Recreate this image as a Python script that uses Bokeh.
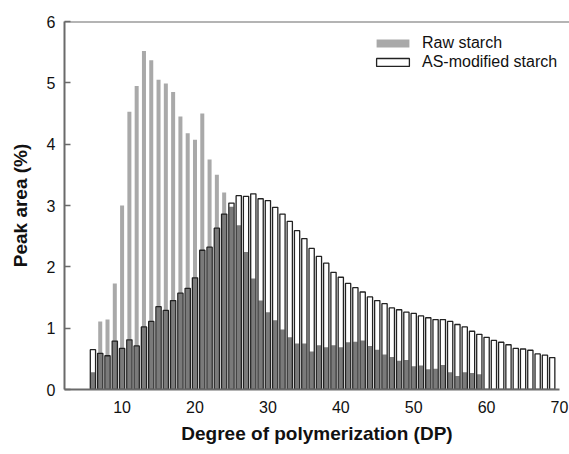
from bokeh.plotting import figure
from bokeh.models import Range1d, Span, Legend, LegendItem, ColumnDataSource, FixedTicker
from bokeh.embed import file_html
from bokeh.resources import INLINE

dp = list(range(6, 70))
as_modified = [0.65, 0.59, 0.55, 0.79, 0.67, 0.81, 0.71, 1.02, 1.11, 1.35,
               1.29, 1.45, 1.57, 1.65, 1.82, 2.27, 2.32, 2.63, 2.86, 3.04,
               3.16, 3.15, 3.19, 3.11, 3.08, 2.97, 2.86, 2.74, 2.59, 2.46,
               2.30, 2.17, 2.06, 1.91, 1.83, 1.73, 1.66, 1.59, 1.51, 1.45,
               1.40, 1.33, 1.30, 1.26, 1.24, 1.20, 1.17, 1.14, 1.14, 1.11,
               1.06, 1.02, 0.95, 0.90, 0.85, 0.80, 0.77, 0.73, 0.67, 0.66,
               0.64, 0.58, 0.56, 0.52]
raw = [0.28, 1.11, 1.14, 1.73, 3.00, 4.53, 4.95, 5.52, 5.37, 5.05,
       4.99, 4.85, 4.45, 4.18, 4.07, 4.50, 3.75, 3.50, 3.21, 2.98,
       2.68, 2.24, 1.81, 1.45, 1.26, 1.13, 0.98, 0.85, 0.75, 0.75,
       0.62, 0.72, 0.69, 0.72, 0.69, 0.77, 0.78, 0.80, 0.71, 0.65,
       0.57, 0.53, 0.47, 0.48, 0.38, 0.39, 0.33, 0.34, 0.40, 0.28,
       0.22, 0.28, 0.27, 0.25, 0.0, 0.0, 0.0, 0.0, 0.0, 0.0,
       0.0, 0.0, 0.0, 0.0]
x_ticks = [10, 20, 30, 40, 50, 60, 70]
y_ticks = [0, 1, 2, 3, 4, 5, 6]

overlap = [min(a, b) for a, b in zip(raw, as_modified)]
src = ColumnDataSource(dict(dp=dp, raw=raw, asm=as_modified, ov=overlap))

FONT = "Liberation Sans"
AXC = "#6a6a6a"

p = figure(width=569, height=454, output_backend="svg", toolbar_location=None,
           x_range=Range1d(2.1, 71.37), y_range=Range1d(0, 6),
           min_border_left=64, min_border_right=0, min_border_top=21, min_border_bottom=65)
p.outline_line_color = None
p.grid.grid_line_color = None
p.background_fill_color = "white"
p.border_fill_color = "white"

r_raw = p.vbar(x="dp", top="raw", width=0.55, source=src, fill_color="#a9a9a9", line_color=None)
p.vbar(x="dp", top="asm", width=0.72, source=src, fill_color="white", line_color=None)
p.vbar(x="dp", top="ov", width=0.62, source=src, fill_color="#7a7a7a", line_color=None)
r_as = p.vbar(x="dp", top="asm", width=0.72, source=src, fill_color=None,
              line_color="#222222", line_width=1.3)

p.add_layout(Span(location=6, dimension="width", line_color=AXC, line_width=2))

for ax in (p.xaxis[0], p.yaxis[0]):
    ax.axis_line_color = AXC
    ax.axis_line_width = 2
    ax.major_tick_line_color = AXC
    ax.major_tick_line_width = 1.5
    ax.major_tick_in = 6
    ax.major_tick_out = 0
    ax.minor_tick_line_color = None
    ax.major_label_text_font = FONT
    ax.major_label_text_font_size = "16px"
    ax.major_label_text_color = "#111111"
    ax.axis_label_text_font = FONT
    ax.axis_label_text_font_size = "19px"
    ax.axis_label_text_font_style = "bold"
    ax.axis_label_text_color = "#111111"

p.xaxis.ticker = FixedTicker(ticks=x_ticks)
p.yaxis.ticker = FixedTicker(ticks=y_ticks)
p.xaxis.bounds = (2.1, 70)
p.xaxis.major_tick_line_color = None
p.xaxis.major_label_standoff = 11
p.xaxis.axis_label_standoff = 7
p.yaxis.major_label_standoff = 9
p.yaxis.axis_label_standoff = 13
p.xaxis.axis_label = "Degree of polymerization (DP)"
p.yaxis.axis_label = "Peak area (%)"

legend = Legend(items=[LegendItem(label="Raw starch", renderers=[r_raw]),
                       LegendItem(label="AS-modified starch", renderers=[r_as])],
                location=(308, 318), padding=0, margin=0, spacing=0,
                glyph_width=41, glyph_height=10, label_height=19, label_standoff=9,
                label_text_font=FONT, label_text_font_size="16px", label_text_color="#111111",
                border_line_color=None, background_fill_alpha=0)
p.add_layout(legend, "center")

open("out.html", "w").write(file_html(p, INLINE))
